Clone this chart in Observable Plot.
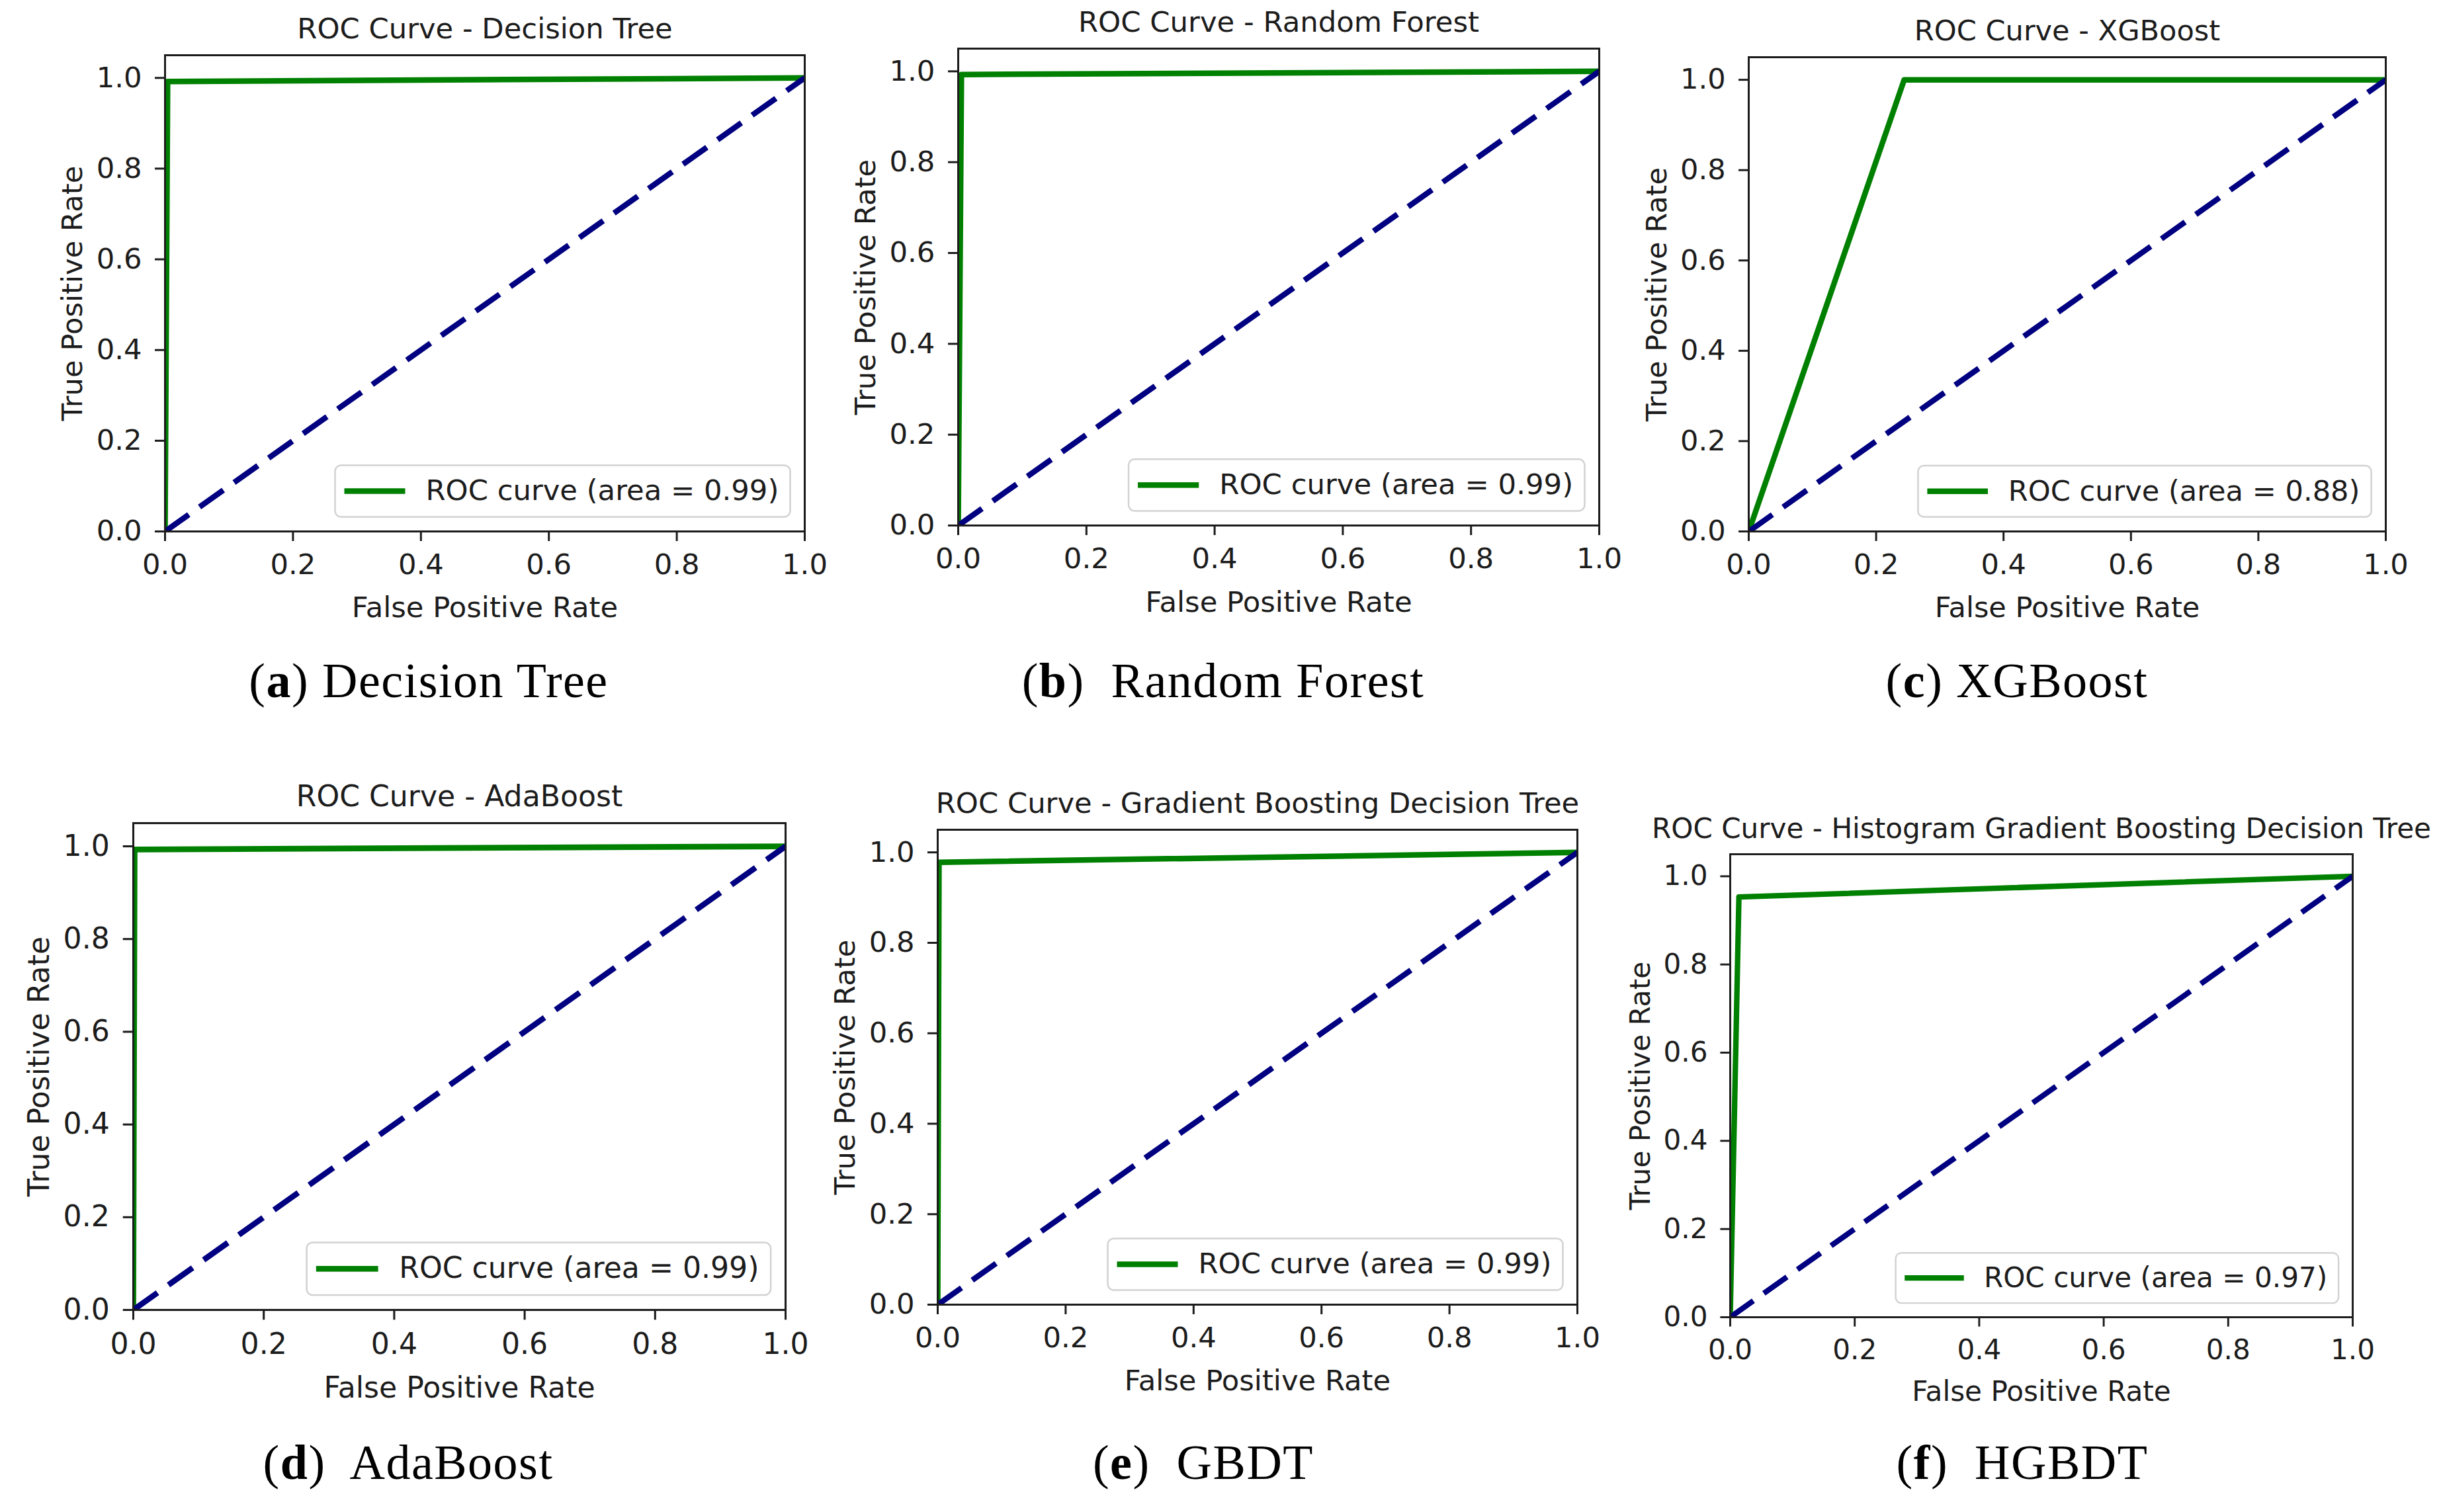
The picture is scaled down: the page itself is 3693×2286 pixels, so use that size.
<!DOCTYPE html>
<html>
<head>
<meta charset="utf-8">
<script src="https://cdn.jsdelivr.net/npm/d3@7"></script>
<script src="https://cdn.jsdelivr.net/npm/@observablehq/plot@0.6"></script>
<style>
  html, body { margin: 0; padding: 0; background: white; overflow: hidden; }
  #root { position: relative; width: 3693px; height: 2286px; background: white; overflow: hidden; }
  .panel { position: absolute; }
  .panel svg { overflow: visible; max-width: none; }
  .caption { position: absolute; width: 1000px; text-align: center; font-family: "Liberation Serif", serif;
             font-size: 74px; line-height: 74px; letter-spacing: 1.5px; color: #000; white-space: pre; }
</style>
</head>
<body>
<div id="root"></div>
<script>
// ---------- data ----------
const panelIds = ["a", "b", "c", "d", "e", "f"];
const modelNames = ["Decision Tree", "Random Forest", "XGBoost", "AdaBoost",
  "Gradient Boosting Decision Tree", "Histogram Gradient Boosting Decision Tree"];
const shortNames = ["Decision Tree", "Random Forest", "XGBoost", "AdaBoost", "GBDT", "HGBDT"];
const aucValues = [0.99, 0.99, 0.88, 0.99, 0.99, 0.97];
const fprValues = [
  [0, 0.004, 1],
  [0, 0.005, 1],
  [0, 0.244, 1],
  [0, 0.002, 1],
  [0, 0.002, 1],
  [0, 0.014, 1]
];
const tprValues = [
  [0, 0.992, 1],
  [0, 0.993, 1],
  [0, 1.0, 1],
  [0, 0.993, 1],
  [0, 0.978, 1],
  [0, 0.953, 1]
];
const chanceX = [0, 1];
const chanceY = [0, 1];
const tickValues = [0, 0.2, 0.4, 0.6, 0.8, 1.0];
const xLabel = "False Positive Rate";
const yLabel = "True Positive Rate";

// ---------- layout (pixel frame positions) ----------
const frames = [
  {L: 249,  R: 1216, T: 83,   B: 803},
  {L: 1448, R: 2417, T: 73,   B: 794},
  {L: 2643, R: 3606, T: 86,   B: 803},
  {L: 201,  R: 1187, T: 1244, B: 1980},
  {L: 1417, R: 2384, T: 1254, B: 1972},
  {L: 2615, R: 3556, T: 1291, B: 1991}
];
const captionCenters = [648, 1849, 3049, 617, 1819, 3057];
const captionBaselines = [1054, 1054, 1054, 2236, 2236, 2236];
const captionGaps = [" ", "  ", " ", "  ", "  ", "  "];

const root = document.getElementById("root");
const fmt = d3.format(".1f");

panelIds.forEach((id, i) => {
  const g = frames[i];
  const W = g.R - g.L, H = g.B - g.T, s = W / 967;
  const ML = 200, MT = 90, MR = 80, MB = 150;
  const roc = fprValues[i].map((f, j) => ({fpr: f, tpr: tprValues[i][j]}));
  const chance = chanceX.map((x, j) => ({fpr: x, tpr: chanceY[j]}));
  const fs = 43.3 * s;
  const legW = 688 * s, legH = 78 * s, legPad = 22 * s;
  const legLeft = W - legPad - legW; // from frame left
  const lw = 8.5 * s;

  const plot = Plot.plot({
    width: ML + W + MR,
    height: MT + H + MB,
    marginLeft: ML, marginRight: MR, marginTop: MT, marginBottom: MB,
    x: {domain: [0, 1], axis: null},
    y: {domain: [0, 1.05], axis: null},
    style: {fontFamily: "DejaVu Sans", fontSize: fs + "px", color: "#1c1c1c",
            background: "transparent", overflow: "visible", maxWidth: "none"},
    marks: [
      Plot.axisX({ticks: tickValues, tickFormat: fmt, tickSize: 15 * s, tickPadding: 19 * s,
                  strokeWidth: 3 * s, label: null, fontSize: fs}),
      Plot.axisY({ticks: tickValues, tickFormat: fmt, tickSize: 15 * s, tickPadding: 20 * s,
                  strokeWidth: 3 * s, label: null, fontSize: fs}),
      Plot.line(roc, {x: "fpr", y: "tpr", stroke: "green", strokeWidth: lw, clip: true}),
      Plot.line(chance, {x: "fpr", y: "tpr", stroke: "navy", strokeWidth: lw, clip: true,
                         strokeDasharray: `${44 * s},${20 * s}`, strokeLinecap: "butt"}),
      Plot.frame({stroke: "#1c1c1c", strokeWidth: 3 * s}),
      // legend box
      Plot.frame({fill: "white", fillOpacity: 0.85, stroke: "#d2d2d2", strokeWidth: 2.5 * s, rx: 9 * s,
                  insetLeft: legLeft, insetRight: legPad, insetTop: H - legPad - legH, insetBottom: legPad}),
      // legend handle
      Plot.frame({fill: "green", stroke: "none",
                  insetLeft: legLeft + 14 * s, insetRight: W - (legLeft + 106 * s),
                  insetTop: H - legPad - legH / 2 - lw / 2, insetBottom: legPad + legH / 2 - lw / 2}),
      Plot.text([`ROC curve (area = ${aucValues[i].toFixed(2)})`], {
        text: d => d, frameAnchor: "bottom-right", textAnchor: "start", lineAnchor: "middle",
        dx: -(W - legLeft) + 137 * s, dy: -(legPad + legH / 2), fontSize: 43.3 * s}),
      Plot.text([`ROC Curve - ${modelNames[i]}`], {
        text: d => d, frameAnchor: "top", textAnchor: "middle", lineAnchor: "middle", dy: -39 * s, fontSize: fs}),
      Plot.text([xLabel], {
        text: d => d, frameAnchor: "bottom", textAnchor: "middle", lineAnchor: "middle", dy: 116 * s, fontSize: fs}),
      Plot.text([yLabel], {
        text: d => d, frameAnchor: "left", textAnchor: "middle", lineAnchor: "middle",
        rotate: -90, dx: -139 * s, fontSize: fs})
    ]
  });

  const div = document.createElement("div");
  div.className = "panel";
  div.style.left = (g.L - ML) + "px";
  div.style.top = (g.T - MT) + "px";
  div.appendChild(plot);
  root.appendChild(div);

  const cap = document.createElement("div");
  cap.className = "caption";
  cap.style.left = (captionCenters[i] - 500) + "px";
  cap.style.top = (captionBaselines[i] - 62) + "px";
  cap.innerHTML = `(<b>${id}</b>)${captionGaps[i]}${shortNames[i]}`;
  root.appendChild(cap);
});
</script>
</body>
</html>
